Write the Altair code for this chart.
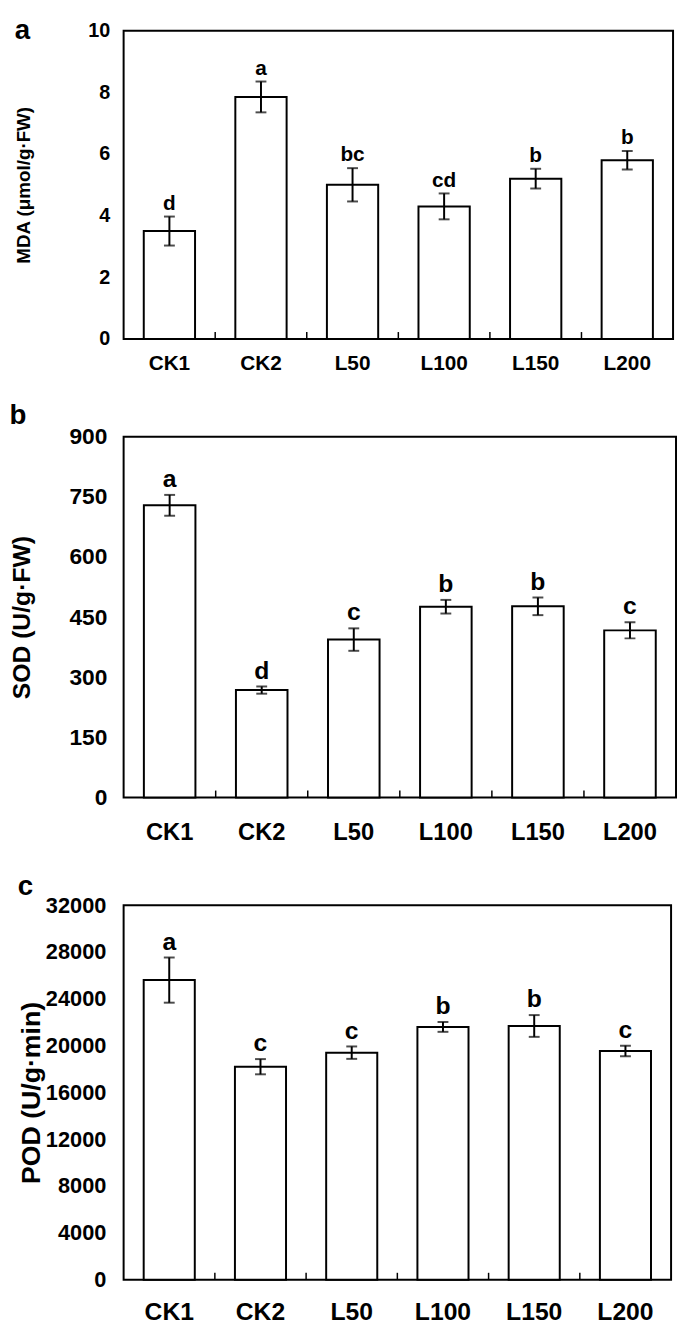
import altair as alt
import pandas as pd

categories = ["CK1", "CK2", "L50", "L100", "L150", "L200"]
boundaries = [1, 2, 3, 4, 5]

mda_mean = [3.5, 7.85, 5.0, 4.3, 5.2, 5.8]
mda_err = [0.47, 0.5, 0.54, 0.42, 0.32, 0.3]
mda_letters = ["d", "a", "bc", "cd", "b", "b"]

sod_mean = [729, 268, 394, 476, 477, 417]
sod_err = [26, 9, 28, 17, 22, 20]
sod_letters = ["a", "d", "c", "b", "b", "c"]

pod_mean = [25600, 18200, 19400, 21600, 21680, 19550]
pod_err = [1930, 650, 530, 420, 930, 450]
pod_letters = ["a", "c", "c", "b", "b", "c"]

FONT = "Liberation Sans"


def panel(letter, means, errs, letters, ytitle, ymax, ystep, w, h,
          tick_fs, xlab_fs, title_fs, let_fs, lab_pad_y, title_pad, lab_pad_x, toff):
    df = pd.DataFrame({"cat": categories, "mean": means, "err": errs, "lab": letters})
    df["lo"] = df["mean"] - df["err"]
    df["hi"] = df["mean"] + df["err"]
    tdf = pd.DataFrame({"b": boundaries})
    xs = alt.Scale(domain=categories, paddingInner=0, paddingOuter=0)
    ys = alt.Scale(domain=[0, ymax], nice=False)
    xax = alt.Axis(title=None, labelAngle=0, ticks=False, domain=False,
                   labelFont=FONT, labelFontWeight="bold", labelFontSize=xlab_fs,
                   labelColor="black", labelPadding=lab_pad_x)
    yax = alt.Axis(title=ytitle, grid=False, domain=False, ticks=False, tickSize=0,
                   values=list(range(0, ymax + 1, ystep)), format="d",
                   labelFont=FONT, labelFontWeight="bold", labelFontSize=tick_fs,
                   labelColor="black", labelPadding=lab_pad_y,
                   titleFont=FONT, titleFontWeight="bold", titleFontSize=title_fs,
                   titleColor="black", titlePadding=title_pad)
    base = alt.Chart(df)
    X = alt.X("cat:N", scale=xs, sort=categories)
    bars = base.mark_bar(fill="white", stroke="black", strokeWidth=2,
                         width=alt.RelativeBandSize(0.56)).encode(
        x=alt.X("cat:N", scale=xs, axis=xax, sort=categories),
        y=alt.Y("mean:Q", scale=ys, axis=yax),
    )
    err = base.mark_rule(color="black", strokeWidth=2).encode(
        x=X, y=alt.Y("lo:Q", scale=ys), y2="hi:Q",
    )
    cap_lo = base.mark_tick(color="black", thickness=2, size=11, orient="horizontal").encode(
        x=X, y=alt.Y("lo:Q", scale=ys),
    )
    cap_hi = base.mark_tick(color="black", thickness=2, size=11, orient="horizontal").encode(
        x=X, y=alt.Y("hi:Q", scale=ys),
    )
    txt = base.mark_text(font=FONT, fontWeight="bold", fontSize=let_fs, color="black",
                         baseline="bottom", dy=-3).encode(
        x=X, y=alt.Y("hi:Q", scale=ys), text="lab:N",
    )
    ticks = alt.Chart(tdf).mark_rule(color="black", strokeWidth=1.5).encode(
        x=alt.X("b:Q", scale=alt.Scale(domain=[0, len(categories)], nice=False, zero=False), axis=None),
        y=alt.value(h),
        y2=alt.value(h - 7),
    )
    main = alt.layer(bars, err, cap_lo, cap_hi, txt)
    return alt.layer(main, ticks).resolve_scale(x="independent").properties(
        width=w, height=h,
        title=alt.TitleParams(letter, anchor="start", frame="bounds", font=FONT,
                              fontWeight="bold", fontSize=28, color="black", offset=toff),
    )


pa = panel("a", mda_mean, mda_err, mda_letters, "MDA (μmol/g·FW)", 10, 2, 556, 312,
           20, 21, 19, 21, 14, 55, 14, -24)
pb = panel("b", sod_mean, sod_err, sod_letters, "SOD (U/g·FW)", 900, 150, 559, 365,
           23, 24, 25, 25, 17, 35, 24, -4)
pc = panel("c", pod_mean, pod_err, pod_letters, "POD (U/g·min)", 32000, 4000, 554, 379,
           22, 25, 27, 25, 18, 0, 20, -7)

chart = alt.vconcat(pa, pb, pc, spacing=27).properties(padding=0).configure_view(
    stroke="black", strokeWidth=2
)

chart.save("out.html", embed_options={"renderer": "svg", "actions": False})
